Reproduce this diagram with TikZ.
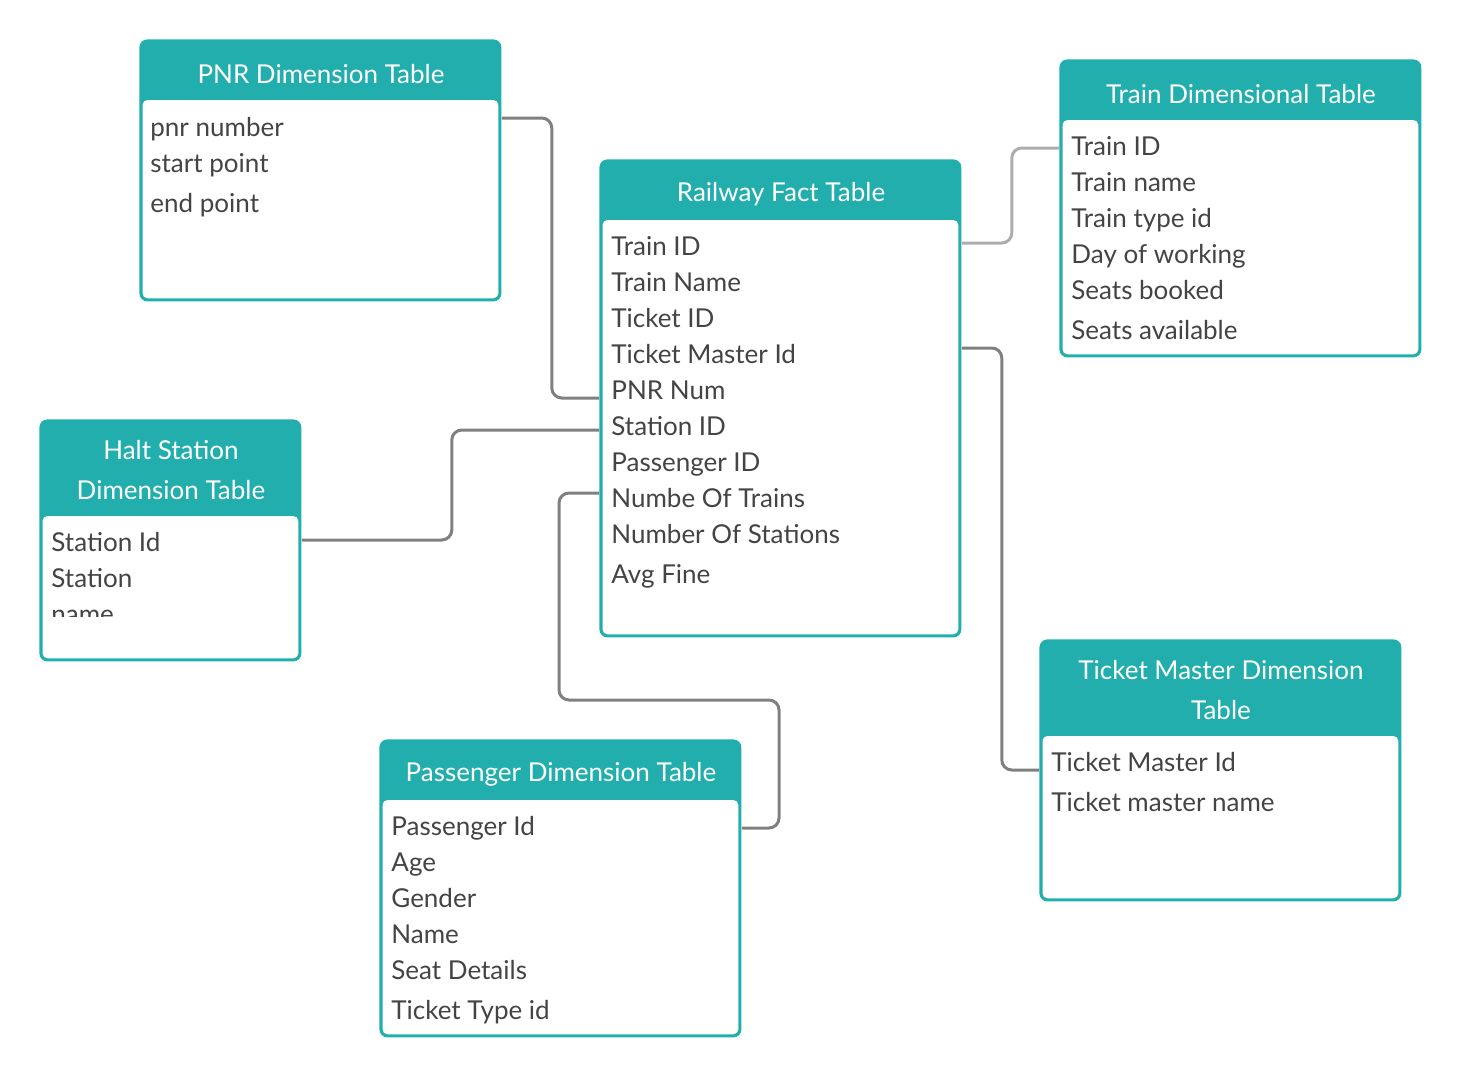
\documentclass[tikz,border=0pt]{standalone}
\usepackage{fontspec}
\setmainfont{Lato}
\usetikzlibrary{positioning, calc}
\definecolor{tealhead}{HTML}{22AEAD}
\definecolor{rowtext}{HTML}{444444}
\definecolor{linkgrey}{HTML}{808080}
\definecolor{linklight}{HTML}{ADADAD}

\tikzset{
  tblbox/.style={draw=none, fill=tealhead, rounded corners=4pt, anchor=north west, inner sep=0pt},
  tbltitle/.style={text=white, font=\fontsize{13}{20}\selectfont, align=center},
  tblrow/.style={text=rowtext, font=\fontsize{13}{16}\selectfont, anchor=base west, inner sep=0pt},
  link/.style={draw=linkgrey, line width=1.5pt, rounded corners=5pt},
  linkpale/.style={link, draw=linklight}
}

\begin{document}
\begin{tikzpicture}[x=0.5pt, y=-0.5pt]
  \useasboundingbox (0,0) rectangle (1460,1076);

  % table frames
  \node[tblbox, minimum width=181pt, minimum height=131pt] (pnr) at (139,39) {};
  \node[tblbox, minimum width=181pt, minimum height=239pt] (fact) at (599,159) {};
  \node[tblbox, minimum width=181pt, minimum height=149pt] (train) at (1059,59) {};
  \node[tblbox, minimum width=131pt, minimum height=121pt] (halt) at (39,419) {};
  \node[tblbox, minimum width=181pt, minimum height=131pt] (ticket) at (1039,639) {};
  \node[tblbox, minimum width=181pt, minimum height=149pt] (pass) at (379,739) {};

  % white bodies
  \fill[white, rounded corners=2.5pt] ($(pnr.south west)+(3.5,-3.5)$) rectangle ($(pnr.north east)+(-3.5,61)$);
  \fill[white, rounded corners=2.5pt] ($(fact.south west)+(3.5,-3.5)$) rectangle ($(fact.north east)+(-3.5,61)$);
  \fill[white, rounded corners=2.5pt] ($(train.south west)+(3.5,-3.5)$) rectangle ($(train.north east)+(-3.5,61)$);
  \fill[white, rounded corners=2.5pt] ($(halt.south west)+(3.5,-3.5)$) rectangle ($(halt.north east)+(-3.5,97)$);
  \fill[white, rounded corners=2.5pt] ($(ticket.south west)+(3.5,-3.5)$) rectangle ($(ticket.north east)+(-3.5,97)$);
  \fill[white, rounded corners=2.5pt] ($(pass.south west)+(3.5,-3.5)$) rectangle ($(pass.north east)+(-3.5,61)$);

  % titles
  \node[tbltitle] (pnr-title) at (321,74) {PNR Dimension Table};
  \node[tbltitle] (fact-title) at (781,194) {Railway Fact Table};
  \node[tbltitle] (train-title) at (1241,94) {Train Dimensional Table};
  \node[tbltitle] (halt-title) at (171,470) {Halt Station\\Dimension Table};
  \node[tbltitle] (ticket-title) at (1221,690) {Ticket Master Dimension\\Table};
  \node[tbltitle] (pass-title) at (561,774) {Passenger Dimension Table};

  % rows
  \foreach \y/\txt [count=\i] in {136/pnr number, 172/start point, 212/end point}
    \node[tblrow] (pnr-\i) at (150,\y) {\txt};
  \foreach \y/\txt [count=\i] in {255/Train ID, 291/Train Name, 327/Ticket ID, 363/Ticket Master Id,
      399/PNR Num, 435/Station ID, 471/Passenger ID, 507/Numbe Of Trains, 543/Number Of Stations, 583/Avg Fine}
    \node[tblrow] (fact-\i) at (611,\y) {\txt};
  \foreach \y/\txt [count=\i] in {155/Train ID, 191/Train name, 227/Train type id, 263/Day of working,
      299/Seats booked, 339/Seats available}
    \node[tblrow] (train-\i) at (1071,\y) {\txt};
  \foreach \y/\txt [count=\i] in {551/Station Id, 587/Station}
    \node[tblrow] (halt-\i) at (51,\y) {\txt};
  \begin{scope}
    \clip (42,600) rectangle (298,616);
    \node[tblrow] (halt-3) at (51,623) {name};
  \end{scope}
  \foreach \y/\txt [count=\i] in {771/Ticket Master Id, 811/Ticket master name}
    \node[tblrow] (ticket-\i) at (1051,\y) {\txt};
  \foreach \y/\txt [count=\i] in {835/Passenger Id, 871/Age, 907/Gender, 943/Name, 979/Seat Details, 1019/Ticket Type id}
    \node[tblrow] (pass-\i) at (391,\y) {\txt};

  % connectors
  \draw[link] ($(pnr.north east)+(0,79)$) -- ++(50,0) |- ($(fact.north west)+(0,239)$);
  \draw[linkpale] ($(fact.north east)+(0,84)$) -- ++(50,0) |- ($(train.north west)+(0,89)$);
  \draw[link] ($(fact.north east)+(0,189)$) -- ++(40,0) |- ($(ticket.north west)+(0,131)$);
  \draw[link] ($(halt.north east)+(0,121)$) -- ++(150,0) |- ($(fact.north west)+(0,271)$);
  \draw[link] ($(fact.north west)+(0,334)$) -- ++(-40,0) -- ++(0,207) -- ++(220,0)
    |- ($(pass.north east)+(0,89)$);
\end{tikzpicture}
\end{document}
